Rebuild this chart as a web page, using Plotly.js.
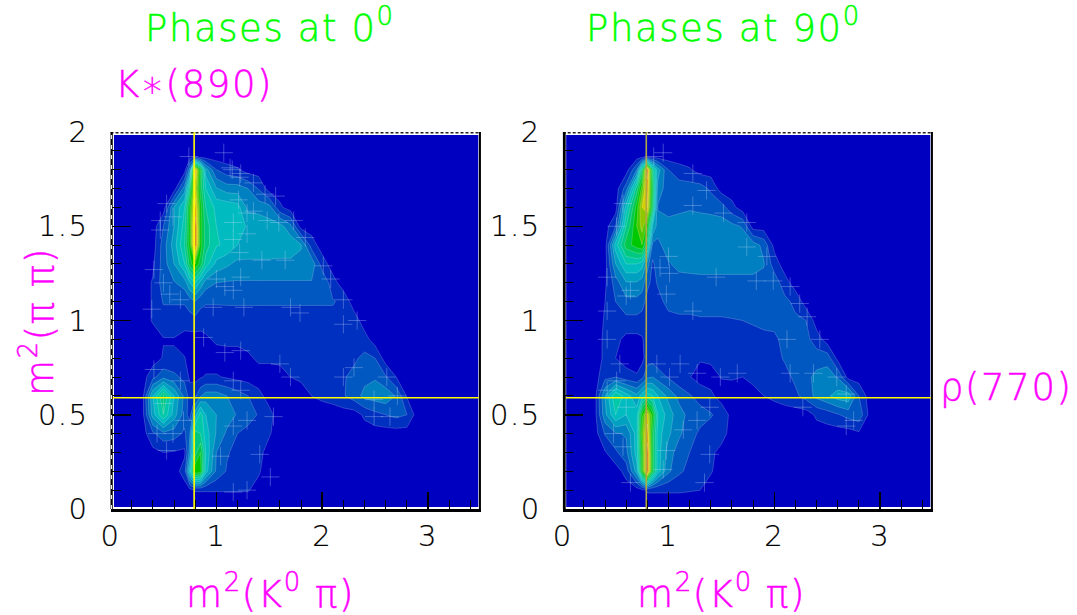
<!DOCTYPE html>
<html><head><meta charset="utf-8">
<script src="https://cdn.plot.ly/plotly-3.0.1.min.js"></script>
<style>
html,body{margin:0;padding:0;background:#fff}
#c{width:1077px;height:615px}
.annotation-text{letter-spacing:1.6px}
.xtick text,.ytick text,.x2tick text,.y2tick text{letter-spacing:1.5px}
</style></head><body><div id="c"></div>
<script>
const massKpi = [.032,.3,.4,.5,.6,.7,.75,.8,.85,.9,1,1.1,1.2,1.3,1.4,1.5,1.6,1.7,1.8,1.9,2,2.1,2.2,2.3,2.4,2.5,2.6,2.7,2.8,2.9,3,3.477];
const massPiPi = [1.984,1.87,1.8,1.7,1.6,1.5,1.4,1.3,1.2,1.1,1,.9,.8,.7,.6,.5,.4,.3,.2,.1,.01];
const phase0 = [
[0,0,0,0,0,0,0,0,0,0,0,0,0,0,0,0,0,0,0,0,0,0,0,0,0,0,0,0,0,0,0,0],
[0,0,0,0,0,0,0,0,0,0,0,0,0,0,0,0,0,0,0,0,0,0,0,0,0,0,0,0,0,0,0,0],
[0,0,0,0,0,0,3,13,8.5,4,1.5,.9,.6,0,0,0,0,0,0,0,0,0,0,0,0,0,0,0,0,0,0,0],
[0,0,0,0,0,3,7,12,8,5.5,3.6,3,3,2.5,1.4,0,0,0,0,0,0,0,0,0,0,0,0,0,0,0,0,0],
[0,0,0,0,3.5,5.5,9,13,9,6.5,5.2,5.2,4.9,3.2,3.1,2.9,.7,0,0,0,0,0,0,0,0,0,0,0,0,0,0,0],
[0,0,0,1.5,3.5,6,9,14,9,7,5.5,5.4,5.1,4.3,4.2,3.9,3.9,2.8,0,0,0,0,0,0,0,0,0,0,0,0,0,0],
[0,0,0,2,4,6.5,9,14,9,7,5.6,5.3,4.5,4.4,4.4,4.4,4.2,4.2,3.6,1,0,0,0,0,0,0,0,0,0,0,0,0],
[0,0,.3,2,3.5,5.5,8,9.5,8,6,4.2,3.7,3.2,3.2,3.2,3.2,3.2,3.2,3.2,3.2,1,0,0,0,0,0,0,0,0,0,0,0],
[0,0,.6,2,2.4,3,4.5,5.5,4.2,3,2.5,2.4,2.4,2.4,2.4,2.4,2.4,2.4,2.4,2.4,2.4,.9,0,0,0,0,0,0,0,0,0,0],
[0,0,.6,1.6,1.6,1.6,2,2.4,1.8,1.6,1.6,1.6,1.6,1.6,1.6,1.6,1.6,1.6,1.6,1.6,1.6,1.6,1.2,0,0,0,0,0,0,0,0,0],
[0,0,.6,1,1,1,1.1,1.2,1,1,1,1.1,1.1,1.1,1.1,1.1,1.1,1.1,1.1,1.1,1.1,1.1,1.1,1,0,0,0,0,0,0,0,0],
[0,0,0,.45,.45,.1,.05,.05,.1,.3,.7,.8,.8,.9,.9,.9,.9,.9,.9,.9,.9,.9,.9,1.3,.9,0,0,0,0,0,0,0],
[0,0,0,.6,.6,.55,0,0,0,0,0,0,0,.3,.7,.7,.8,.9,.9,1,1,1,1,1.3,1.8,1.5,0,0,0,0,0,0],
[0,0,1.2,2.2,1.8,1.2,.3,.2,.4,.6,.6,.4,.2,.1,0,0,0,.5,.7,.9,1,1.2,1.4,1.8,2.2,2.4,1.6,.5,0,0,0,0],
[0,0,4.5,7.5,4.5,2.2,1,1.3,2.4,3,3,2.5,2,1.5,.8,.1,0,0,0,.5,.7,.9,1.4,2,2.8,3,3.2,2.4,.4,0,0,0],
[0,0,4,6.5,4,2,1,4,6,4.5,3.5,3,2.4,2,1.4,.8,0,0,0,0,0,0,0,0,.7,1.2,1.5,1.8,1.5,0,0,0],
[0,0,1.3,2.2,2,1.3,2.5,7,6.5,5,3.4,2.3,1.5,1.1,.9,.6,0,0,0,0,0,0,0,0,0,0,0,0,0,0,0,0],
[0,0,.2,.5,.4,.3,3,7,8.5,5.5,2.5,1.6,1.2,1,.8,.1,0,0,0,0,0,0,0,0,0,0,0,0,0,0,0,0],
[0,0,0,0,0,1,5,9.5,9,5,2.3,1.4,1.1,.8,.6,0,0,0,0,0,0,0,0,0,0,0,0,0,0,0,0,0],
[0,0,0,0,0,0,.2,.55,.55,.55,.55,.55,.55,.55,.2,0,0,0,0,0,0,0,0,0,0,0,0,0,0,0,0,0],
[0,0,0,0,0,0,0,0,0,0,0,0,0,0,0,0,0,0,0,0,0,0,0,0,0,0,0,0,0,0,0,0]
];
const phase90 = [
[0,0,0,0,0,0,0,0,0,0,0,0,0,0,0,0,0,0,0,0,0,0,0,0,0,0,0,0,0,0,0,0],
[0,0,0,0,0,0,0,0,0,0,0,0,0,0,0,0,0,0,0,0,0,0,0,0,0,0,0,0,0,0,0,0],
[0,0,0,0,0,2.5,7,14,7,4,1.5,.9,.6,0,0,0,0,0,0,0,0,0,0,0,0,0,0,0,0,0,0,0],
[0,0,0,0,2,7,10,13,8,3,2,2,2,2,1.3,0,0,0,0,0,0,0,0,0,0,0,0,0,0,0,0,0],
[0,0,0,0,5,9,11.5,12.5,7.5,2.4,2,2.2,2.4,2.3,2.2,2,.8,0,0,0,0,0,0,0,0,0,0,0,0,0,0,0],
[0,0,0,1.5,6.5,9.5,11,9,4.5,3,3,3.1,3,3,3,3,2.8,2.4,0,0,0,0,0,0,0,0,0,0,0,0,0,0],
[0,0,0,5,8,9,9.5,7,2.2,2.2,3.1,3.1,3.1,3.1,3.1,3.1,3.1,3.1,3,2.2,.2,0,0,0,0,0,0,0,0,0,0,0],
[0,0,0,3.5,5.5,5.5,5,3,1.3,2,2.4,2.8,2.9,3,3,3,3,3,3,2.6,1,0,0,0,0,0,0,0,0,0,0,0],
[0,0,.3,2,3.4,3.4,3,1.8,1.2,1.6,2,2.1,2.1,2.1,2.1,2.1,2.1,2.1,2.1,2.1,2.1,.9,0,0,0,0,0,0,0,0,0,0],
[0,0,.5,1.5,2.2,2.2,2,1.1,1,1.2,1.8,1.9,1.9,1.9,1.9,1.9,1.9,1.9,1.9,1.9,1.9,1.8,1.2,0,0,0,0,0,0,0,0,0],
[0,0,.6,1.1,1.2,1.2,1,1,1,1.1,1.2,1.3,1.3,1.4,1.4,1.4,1.45,1.5,1.6,1.7,1.8,1.7,1.7,1.5,0,0,0,0,0,0,0,0],
[0,0,.7,.8,.2,.2,.4,.9,.9,1,1,1,1,1.1,1.1,1.1,1.2,1.2,1.2,1.3,1.3,1.8,1.7,1.8,1,0,0,0,0,0,0,0],
[0,0,.7,.5,.1,.1,.2,1,1.1,.9,.9,.8,.7,.6,.7,.9,1,1,1.1,1.1,1.2,1.6,1.8,1.9,2,2.1,.2,0,0,0,0,0],
[0,0,1.2,1.5,.9,.6,1.2,2.3,2.5,2,1.4,.8,.55,.1,.1,.55,.6,.5,.8,1,1.1,1.2,1.7,2.2,2.8,3,2.4,.1,0,0,0,0],
[0,0,3.5,6.5,5,3.8,5,6,5.5,4.5,3.2,2.2,1.6,1.1,.7,.1,0,0,.1,.5,.7,1,1.3,1.9,2.8,3.3,4,4.2,1.5,0,0,0],
[0,0,3.2,5.5,4.5,5,9,12,9,5.5,4,2.9,2.2,1.9,1.6,1.1,.2,0,0,0,0,0,0,0,.7,1,1.4,1.9,2.2,.2,0,0],
[0,0,1.6,2.4,2.6,5,10,13,8,5,3.7,2.7,1.9,1.3,1,.9,.1,0,0,0,0,0,0,0,0,0,0,0,.3,.3,0,0],
[0,0,.4,1.3,2.2,5,9,14,8,5,3,2,1.5,.9,.7,.2,0,0,0,0,0,0,0,0,0,0,0,0,0,0,0,0],
[0,0,0,0,.9,4,9,14,8,5,2.7,1.7,1.2,.8,.6,0,0,0,0,0,0,0,0,0,0,0,0,0,0,0,0,0],
[0,0,0,0,0,0,.2,.6,.6,.6,.6,.6,.55,.5,0,0,0,0,0,0,0,0,0,0,0,0,0,0,0,0,0,0],
[0,0,0,0,0,0,0,0,0,0,0,0,0,0,0,0,0,0,0,0,0,0,0,0,0,0,0,0,0,0,0,0]
];
const crossX0 = [.74,1.07,1.15,1.23,1.21,1.29,.53,.59,.47,.47,1.29,1.48,1.56,.41,.39,.5,.56,.66,1.16,1.23,.97,1.13,1.22,1.35,1.46,1.35,1.16,1.59,1.73,1.84,1.16,1.22,1.43,1.65,2.01,2.08,1,1.08,1.7,1.26,2.2,2.33,2.2,1.79,1.08,1.23,1.6,1.7,2.2,2.3,2.49,2.61,2.71,2.64,2.49,.41,.5,.66,.59,.44,.53,.69,.88,1.16,1.23,1.29,1.16,1.54,1.51,1.29,1.16,1.41,1.04];
const crossY0 = [1.87,1.89,1.8,1.78,1.64,1.57,1.62,1.55,1.53,1.48,1.46,1.53,1.66,1.27,1.06,1.2,1.14,1.11,1.16,1.23,1.07,1.81,1.76,1.73,1.67,1.58,1.52,1.52,1.53,1.44,1.43,1.36,1.32,1.32,1.29,1.22,1.22,1.18,1.07,1.07,1.11,1,.98,1.04,.83,.84,.77,.7,.7,.75,.58,.7,.6,.49,.49,.74,.56,.68,.4,.4,.31,.47,.91,.68,.63,.47,.44,.49,.17,.1,.09,.29,.28];
const crossX90 = [.86,.95,1.23,1.36,1.23,1.52,1.74,.51,.57,.42,.42,.6,.64,.92,1,1.01,1.45,1.83,1.99,1.93,1.74,2.15,2.24,2.31,1.23,.98,.42,.54,.42,.51,.6,.48,.57,.64,.95,.98,1.14,1.27,1.01,.89,1.11,1.49,1.65,1.27,1.39,1.39,1.34,2.12,2.43,2.15,2.37,2.59,2.68,2.75,2.68,2.27];
const crossY90 = [1.87,1.89,1.78,1.69,1.61,1.57,1.52,1.5,1.62,1.23,1.05,1.13,1.16,1.28,1.34,1.25,1.23,1.21,1.21,1.34,1.39,1.18,1.09,1.02,1.05,1.14,.9,.77,.63,.68,.54,.4,.33,.14,.21,.31,.42,.47,.7,.77,.77,.7,.72,.72,.54,.29,.14,.9,.9,.72,.72,.7,.61,.47,.44,.54];
const levelColors = ['#0000c0','#0030c0','#0058c0','#0080c0','#00a0c0','#00bcc0','#00c8a8','#00c880','#00c848','#00c800','#48c800','#90c800','#d8d000','#e0a000','#d06000','#c02020'];
const xTickVals = [0,1,2,3];
const yTickVals = [0,.5,1,1.5,2];
const yTickText = ['0','0.5','1','1.5','2'];
const kStarMass2 = 0.79, rhoMass2 = 0.59;

const W=1077,H=615;
const px=v=>v/W, py=v=>1-v/H;
const colorscale = levelColors.map((c,i)=>[i/(levelColors.length-1),c]);
const contour=(z,xa,ya)=>({type:'contour',x:massKpi,y:massPiPi,z:z,xaxis:xa,yaxis:ya,showscale:false,hoverinfo:'skip',
  autocontour:false,contours:{start:.5,end:14.5,size:1,coloring:'fill',showlines:true},
  line:{color:'rgba(255,255,255,.2)',width:1,smoothing:0},colorscale:colorscale,zmin:0,zmax:15});
const crosses=(x,y,xa,ya)=>({type:'scatter',mode:'markers',x,y,xaxis:xa,yaxis:ya,hoverinfo:'skip',
  marker:{symbol:'cross-thin',size:13,color:'rgba(205,225,255,.3)',line:{color:'rgba(205,225,255,.3)',width:1}}});
const xax=(d)=>({domain:d,range:[0,3.5],tickvals:xTickVals,ticktext:xTickVals.map(String),ticks:'inside',ticklen:17,tickwidth:1.5,tickcolor:'#000',
  minor:{dtick:.2,tick0:0,ticks:'inside',ticklen:9,tickwidth:1,tickcolor:'#000'},showgrid:false,zeroline:false,showline:true,linecolor:'#000',linewidth:2.5,
  tickfont:{family:'DejaVu Sans',size:29,color:'#000',weight:200},ticklabelstandoff:0});
const yax=()=>({domain:[py(509),py(132)],range:[0,2],tickvals:yTickVals,ticktext:yTickText,ticks:'inside',ticklen:20,tickwidth:1.5,tickcolor:'#000',
  minor:{dtick:.1,tick0:0,ticks:'inside',ticklen:10,tickwidth:1,tickcolor:'#000',showgrid:false},showgrid:false,zeroline:false,showline:false,
  tickfont:{family:'DejaVu Sans',size:29,color:'#000',weight:200},ticklabelstandoff:21});
const ann=(t,x,y,c,a)=>({text:t,xref:'paper',yref:'paper',x:px(x),y:py(y),xanchor:'center',yanchor:'middle',showarrow:false,textangle:a||0,font:{family:'DejaVu Sans',size:37,color:c,weight:200}});
const line=(xr,yr,x0,x1,y0,y1,c,w,d)=>({type:'line',xref:xr,yref:yr,x0,x1,y0,y1,line:{color:c,width:w||1.6,dash:d||'solid'},layer:'above'});
const GREEN='#00ff00',MAG='#ff00ff',YEL='#ffff00';
Plotly.newPlot('c',[contour(phase0,'x','y'),contour(phase90,'x2','y2'),crosses(crossX0,crossY0,'x','y'),crosses(crossX90,crossY90,'x2','y2')],{
  width:W,height:H,margin:{l:0,r:0,t:0,b:0},paper_bgcolor:'#fff',plot_bgcolor:'#fff',showlegend:false,
  xaxis:xax([px(110.5),px(481)]),yaxis:yax(),
  xaxis2:Object.assign(xax([px(562.7),px(933)]),{anchor:'y2'}),yaxis2:Object.assign(yax(),{anchor:'x2'}),
  annotations:[
    ann('Phases at 0<sup>0</sup>',270,26,GREEN),
    ann('Phases at 90<sup>0</sup>',723,26,GREEN),
    ann('K∗(890)',194,84,MAG),
    ann('ρ(770)',1006,387,MAG),
    ann('m<sup>2</sup>(K<sup>0</sup> π)',270,591,MAG),
    ann('m<sup>2</sup>(K<sup>0</sup> π)',721,591,MAG),
    ann('m<sup>2</sup>(π π)',37,322,MAG,-90)
  ],
  shapes:[
    line('x','y',kStarMass2,kStarMass2,0,2,YEL),line('x','y',0,3.5,rhoMass2,rhoMass2,YEL),
    line('x2','y2',kStarMass2,kStarMass2,0,2,'#b0a840'),line('x2','y2',0,3.5,rhoMass2,rhoMass2,YEL),
    line('x','y',0,3.5,1.996,1.996,'#222',1.5,'3px,2px'),line('x2','y2',0,3.5,1.996,1.996,'#222',1.5,'3px,2px'),
    line('x','y',3.49,3.49,0,2,'#000',2),line('x2','y2',3.49,3.49,0,2,'#000',2),
    line('x','y',.008,.008,0,2,'#000',2.8),line('x','y',.008,.008,0,2,'#fff',1.2,'4px,6px'),
    line('x2','y2',.014,.014,0,2,'#000',3)
  ]
},{displayModeBar:false,staticPlot:true}).then(()=>{
  document.querySelectorAll('.annotation-text').forEach(e=>{e.style.stroke=e.style.fill;e.style.strokeWidth='.5px';});
  document.querySelectorAll('.xtick text,.ytick text,.x2tick text,.y2tick text').forEach(e=>{e.style.stroke='#000';e.style.strokeWidth='.2px';});
});
</script></body></html>
